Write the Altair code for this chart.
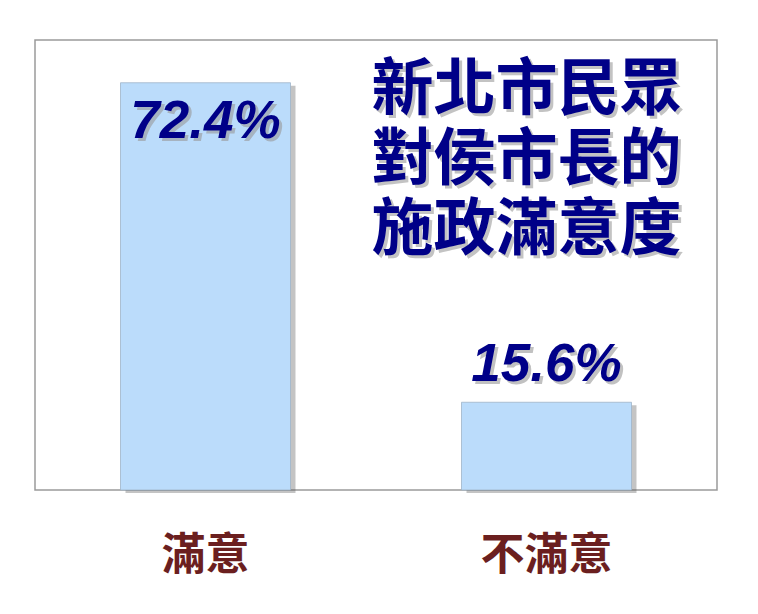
import altair as alt
import pandas as pd

categories = ["滿意", "不滿意"]
values = [72.4, 15.6]
labels = ["72.4%", "15.6%"]
title_lines = ["新北市民眾", "對侯市長的", "施政滿意度"]

df = pd.DataFrame({"cat": categories, "val": values, "label": labels})
tdf = pd.DataFrame({"cat": ["不滿意"], "val": [76.2], "t": [title_lines]})

xenc = alt.X("cat:N", sort=categories, title=None,
             scale=alt.Scale(paddingInner=0, paddingOuter=0),
             axis=alt.Axis(labelAngle=0, domain=False, ticks=False, labelPadding=44,
                           labelFontSize=44, labelColor="#6B1F1F",
                           labelFont="Noto Sans CJK TC", labelFontWeight="bold"))
yscale = alt.Scale(domain=[0, 80], nice=False)
yenc = alt.Y("val:Q", scale=yscale, axis=None)

base = alt.Chart(df)

shadow = base.mark_bar(size=170, color="#555555", opacity=0.35, xOffset=5, yOffset=3).encode(x=xenc, y=yenc)
bars = base.mark_bar(size=170, color="#BBDCFB", stroke="#9FB4C8", strokeWidth=0.8).encode(x=xenc, y=yenc)

lab_common = dict(font="Liberation Sans", fontSize=53, fontWeight="bold", fontStyle="italic")

df1 = df.iloc[[0]]
df2 = df.iloc[[1]]

l1s = alt.Chart(df1).mark_text(baseline="top", dy=16, dx=3, color="#999999", opacity=0.6, **lab_common).encode(x=xenc, y=yenc, text="label:N")
l1 = alt.Chart(df1).mark_text(baseline="top", dy=13, color="#000088", **lab_common).encode(x=xenc, y=yenc, text="label:N")
l2s = alt.Chart(df2).mark_text(baseline="bottom", dy=-7, dx=3, color="#999999", opacity=0.6, **lab_common).encode(x=xenc, y=yenc, text="label:N")
l2 = alt.Chart(df2).mark_text(baseline="bottom", dy=-10, color="#000088", **lab_common).encode(x=xenc, y=yenc, text="label:N")

tcommon = dict(font="Noto Sans CJK TC", fontSize=62, fontWeight="bold", lineHeight=70, baseline="top")
ts = alt.Chart(tdf).mark_text(dx=-17, dy=3, color="#888888", opacity=0.5, **tcommon).encode(x=xenc, y=yenc, text="t")
tt = alt.Chart(tdf).mark_text(dx=-20, color="#000088", **tcommon).encode(x=xenc, y=yenc, text="t")

chart = alt.layer(shadow, bars, l1s, l1, l2s, l2, ts, tt).properties(
    width=682, height=450,
    padding={"left": 27, "top": 32, "right": 30, "bottom": 10},
).configure(
    background="white",
    view=alt.ViewConfig(stroke="#9A9A9A", strokeWidth=1.5),
)

chart.save("out.html", embed_options={"renderer": "svg", "actions": False})
